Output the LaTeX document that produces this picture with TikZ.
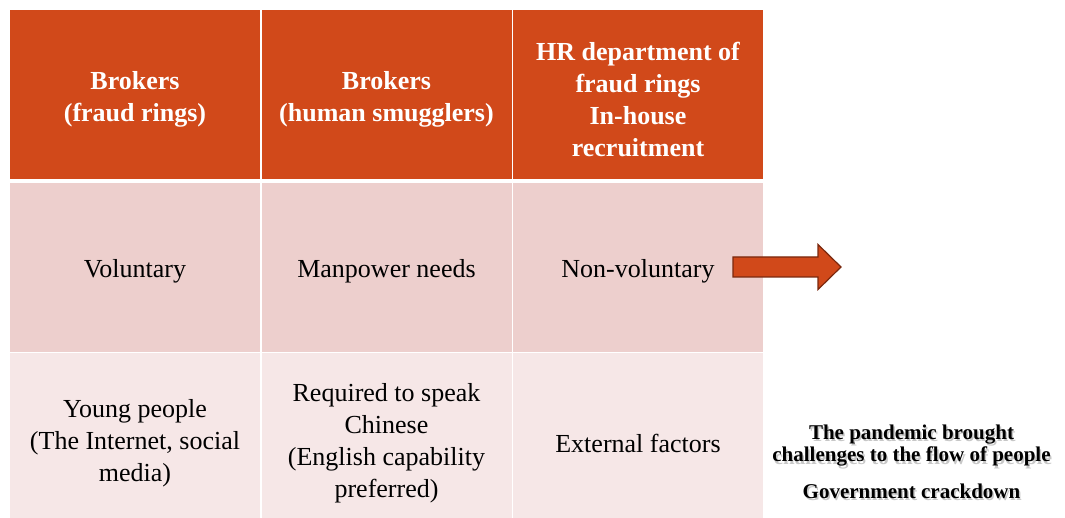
\documentclass[tikz,border=0pt]{standalone}
\usepackage{fontspec}
\setmainfont{Liberation Serif}
\definecolor{hdr}{RGB}{209,73,26}
\definecolor{rowa}{RGB}{237,207,205}
\definecolor{rowb}{RGB}{246,231,231}
\definecolor{arrowedge}{RGB}{122,40,14}
\tikzset{
  cell/.style={rectangle, anchor=north west, inner sep=0pt, minimum width=250pt},
  hcell/.style={cell, fill=hdr, minimum height=169pt},
  acell/.style={cell, fill=rowa, minimum height=169.3pt},
  bcell/.style={cell, fill=rowb, minimum height=173.7pt},
  celltext/.style={align=center, inner sep=0pt, font=\fontsize{26}{32}\selectfont, text=black},
  htext/.style={celltext, text=white, font=\fontsize{26}{32}\selectfont\bfseries},
  note/.style={align=center, inner sep=0pt, font=\fontsize{21}{22.5}\selectfont\bfseries},
  noteshadow/.style={note, text=black, opacity=0.22}
}
\begin{document}
\begin{tikzpicture}[x=1pt,y=-1pt]
\clip (0,0) rectangle (1065,518);
\fill[white] (0,0) rectangle (1065,518);
% header row
\node[hcell] (h1) at (10,10) {};
\node[hcell] (h2) at (261.5,10) {};
\node[hcell] (h3) at (513,10) {};
\node[htext] (th1) at (135,99.5) {Brokers\\(fraud rings)};
\node[htext] (th2) at (386.5,99.5) {Brokers\\(human smugglers)};
\node[htext] (th3) at (638,99.5) {HR department of\\fraud rings\\In-house\\recruitment};
% second row
\node[acell] (a1) at (10,182.5) {};
\node[acell] (a2) at (261.5,182.5) {};
\node[acell] (a3) at (513,182.5) {};
\node[celltext] (ta1) at (135,271) {Voluntary};
\node[celltext] (ta2) at (386.5,271) {Manpower needs};
\node[celltext] (ta3) at (638,271) {Non-voluntary};
% third row
\node[bcell] (b1) at (10,353.3) {};
\node[bcell] (b2) at (261.5,353.3) {};
\node[bcell] (b3) at (513,353.3) {};
\node[celltext] (tb1) at (135,443) {Young people\\(The Internet, social\\media)};
\node[celltext] (tb2) at (386.5,443) {Required to speak\\Chinese\\(English capability\\preferred)};
\node[celltext] (tb3) at (638,443) {External factors};
% block arrow
\draw[fill=hdr, draw=arrowedge, line width=1.2pt, line join=miter]
  (733,257) -- (818,257) -- (818,244.5) -- (841,267) -- (818,289.5) -- (818,277) -- (733,277) -- cycle;
% notes with soft shadow
\node[noteshadow] (s1) at (913,448) {The pandemic brought\\challenges to the flow of people};
\node[noteshadow] (s2) at (913,493.5) {Government crackdown};
\node[note] (n1) at (911.5,445.5) {The pandemic brought\\challenges to the flow of people};
\node[note] (n2) at (911.5,491) {Government crackdown};
\end{tikzpicture}
\end{document}
